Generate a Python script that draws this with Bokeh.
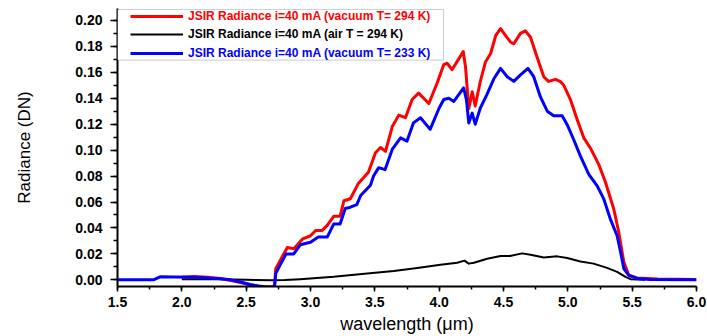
from bokeh.plotting import figure
from bokeh.models import (Range1d, SingleIntervalTicker, PrintfTickFormatter,
                          Legend, LegendItem, BoxAnnotation)
from bokeh.embed import file_html
from bokeh.resources import INLINE

# ---------------- data ----------------
red_wl = [2.0, 2.1, 2.2, 2.3, 2.4, 2.5, 2.6, 2.7, 2.72, 2.73, 2.77, 2.82, 2.87,
          2.94, 3.0, 3.04, 3.09, 3.13, 3.18, 3.23, 3.26, 3.31, 3.37, 3.45, 3.505,
          3.544, 3.583, 3.635, 3.686, 3.738, 3.79, 3.84, 3.92, 3.985, 4.036,
          4.062, 4.10, 4.15, 4.187, 4.205, 4.23, 4.257, 4.28, 4.32, 4.36, 4.40,
          4.44, 4.477, 4.515, 4.554, 4.58, 4.632, 4.67, 4.71, 4.76, 4.813, 4.85,
          4.904, 4.94, 4.969, 5.02, 5.073, 5.124, 5.176, 5.24, 5.29, 5.357,
          5.396, 5.435, 5.474, 5.54, 5.7, 6.0]
red_val = [0.002, 0.0025, 0.002, 0.001, -0.001, -0.003, -0.0055, -0.0055, -0.0055,
           0.0086, 0.016, 0.025, 0.024, 0.0316, 0.034, 0.038, 0.038, 0.042, 0.049,
           0.049, 0.061, 0.0625, 0.074, 0.083, 0.098, 0.102, 0.099, 0.118, 0.127,
           0.125, 0.139, 0.144, 0.136, 0.152, 0.166, 0.167, 0.162, 0.170, 0.176,
           0.164, 0.132, 0.145, 0.134, 0.153, 0.168, 0.1745, 0.1885, 0.1937,
           0.1885, 0.1834, 0.182, 0.190, 0.192, 0.187, 0.172, 0.1566, 0.153,
           0.1546, 0.153, 0.150, 0.139, 0.1235, 0.1095, 0.1015, 0.089, 0.076,
           0.0546, 0.0367, 0.0138, 0.0035, 0.0015, 0.0006, 0.0002]

blue_wl = [1.5, 1.78, 1.83, 1.95, 2.1, 2.2, 2.3, 2.38, 2.45, 2.53, 2.6, 2.66,
           2.72, 2.73, 2.81, 2.87, 2.92, 3.0, 3.06, 3.13, 3.18, 3.23, 3.27, 3.31,
           3.36, 3.39, 3.466, 3.49, 3.53, 3.58, 3.635, 3.70, 3.75, 3.80, 3.855,
           3.93, 4.0, 4.036, 4.075, 4.114, 4.19, 4.212, 4.23, 4.257, 4.28, 4.32,
           4.37, 4.425, 4.477, 4.529, 4.58, 4.632, 4.69, 4.735, 4.787, 4.84,
           4.89, 4.956, 4.995, 5.046, 5.098, 5.163, 5.228, 5.28, 5.33, 5.383,
           5.41, 5.435, 5.474, 5.54, 5.64, 6.0]
blue_val = [0.0, 0.0, 0.0023, 0.0022, 0.002, 0.0015, 0.0008, 0.0, -0.0015,
            -0.0036, -0.0048, -0.0055, -0.0055, 0.005, 0.020, 0.020, 0.027, 0.029,
            0.033, 0.033, 0.043, 0.043, 0.055, 0.056, 0.058, 0.065, 0.073, 0.080,
            0.0865, 0.085, 0.1005, 0.1095, 0.107, 0.121, 0.125, 0.116, 0.1325,
            0.139, 0.140, 0.1375, 0.148, 0.139, 0.121, 0.1286, 0.120, 0.1325,
            0.1426, 0.155, 0.163, 0.1566, 0.153, 0.158, 0.163, 0.1566, 0.141,
            0.130, 0.1265, 0.1265, 0.1196, 0.108, 0.0954, 0.0814, 0.0724, 0.0622,
            0.047, 0.034, 0.0214, 0.0087, 0.0035, 0.001, 0.0002, 0.0001]

black_wl = [2.0, 2.3, 2.5, 2.7, 2.8, 2.92, 3.18, 3.44, 3.647, 3.83, 4.01, 4.14,
            4.197, 4.23, 4.27, 4.373, 4.477, 4.55, 4.645, 4.71, 4.813, 4.917,
            4.995, 5.098, 5.20, 5.305, 5.383, 5.448, 5.487, 5.6]
black_val = [0.0005, 0.0004, 0.0, -0.0004, -0.0002, 0.0005, 0.0023, 0.0048,
             0.0069, 0.0092, 0.0117, 0.0132, 0.0148, 0.0125, 0.0132, 0.0163,
             0.0184, 0.0184, 0.0204, 0.0194, 0.0173, 0.0181, 0.0168, 0.0142,
             0.0125, 0.0092, 0.0061, 0.0023, 0.0005, 0.0]

labels = ["JSIR Radiance i=40 mA (vacuum T= 294 K)",
          "JSIR Radiance i=40 mA (air T = 294 K)",
          "JSIR Radiance i=40 mA (vacuum T= 233 K)"]
colors = ["#ff0000", "#000000", "#0000ff"]

x_label = "wavelength (\u03bcm)"
y_label = "Radiance (DN)"

# ---------------- figure ----------------
p = figure(width=707, height=336, output_backend="svg", toolbar_location=None,
           x_range=Range1d(1.5, 6.0), y_range=Range1d(-0.00513, 0.2092),
           min_border_left=117, min_border_right=11, min_border_top=8,
           min_border_bottom=48)
p.grid.visible = False
p.outline_line_color = None
p.background_fill_color = "white"
p.border_fill_color = "white"

r_black = p.line(black_wl, black_val, line_color=colors[1], line_width=2,
                 line_join="round")
r_red = p.line(red_wl, red_val, line_color=colors[0], line_width=3,
               line_join="round")
r_blue = p.line(blue_wl, blue_val, line_color=colors[2], line_width=3,
                line_join="round")

# axes
xa = p.xaxis[0]
xa.ticker = SingleIntervalTicker(interval=0.5, num_minor_ticks=2)
xa.formatter = PrintfTickFormatter(format="%.1f")
ya = p.yaxis[0]
ya.ticker = SingleIntervalTicker(interval=0.02, num_minor_ticks=2)
ya.formatter = PrintfTickFormatter(format="%.2f")

for ax in (xa, ya):
    ax.axis_line_color = "black"
    ax.axis_line_width = 2
    ax.major_tick_line_color = "black"
    ax.minor_tick_line_color = "black"
    ax.major_tick_line_width = 1.5
    ax.minor_tick_line_width = 1.5
    ax.major_tick_in = 0
    ax.minor_tick_in = 0
    ax.major_label_text_font = "Liberation Sans"
    ax.major_label_text_font_style = "bold"
    ax.major_label_text_font_size = "14px"
    ax.major_label_text_color = "black"
    ax.axis_label_text_font = "Liberation Sans"
    ax.axis_label_text_font_style = "normal"
    ax.axis_label_text_color = "black"

xa.major_tick_out = 5
xa.minor_tick_out = 3
xa.major_label_standoff = 5
xa.axis_label = x_label
xa.axis_label_text_font_size = "18px"
xa.axis_label_standoff = 4

ya.major_tick_out = 7
ya.minor_tick_out = 4
ya.major_label_standoff = 8
ya.axis_label = y_label
ya.axis_label_text_font_size = "17px"
ya.axis_label_standoff = 38

# legend frame
box = BoxAnnotation(left=1.5, right=4.034, top=0.2085, bottom=0.1694,
                    fill_color="white", fill_alpha=1.0,
                    line_color="#555555", line_width=1, level="annotation")
p.add_layout(box)

renderers = [r_red, r_black, r_blue]
offsets = [263, 245, 226]
for lab, col, rend, off in zip(labels, colors, renderers, offsets):
    lg = Legend(items=[LegendItem(label=lab, renderers=[rend])],
                location=(13, off), padding=0, margin=0,
                border_line_color=None, background_fill_alpha=0,
                glyph_width=53, glyph_height=12, label_height=12,
                label_standoff=5, label_text_font="Liberation Sans",
                label_text_font_style="bold", label_text_font_size="12px",
                label_text_color=col)
    p.add_layout(lg, "center")

open("out.html", "w").write(file_html(p, INLINE))
